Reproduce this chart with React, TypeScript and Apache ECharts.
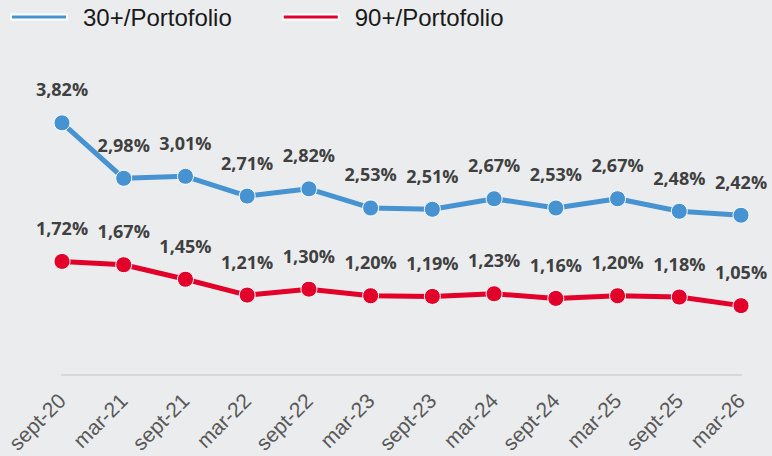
import React, { useEffect, useRef } from "react";
import * as echarts from "echarts";

const categories = ["sept-20", "mar-21", "sept-21", "mar-22", "sept-22", "mar-23", "sept-23", "mar-24", "sept-24", "mar-25", "sept-25", "mar-26"];
const series30 = [3.82, 2.98, 3.01, 2.71, 2.82, 2.53, 2.51, 2.67, 2.53, 2.67, 2.48, 2.42];
const series90 = [1.72, 1.67, 1.45, 1.21, 1.30, 1.20, 1.19, 1.23, 1.16, 1.20, 1.18, 1.05];
const seriesNames = ["30+/Portofolio", "90+/Portofolio"];

const BLUE = "#4793d1";
const RED = "#e2002b";

const fmt = (v: number) => v.toFixed(2).replace(".", ",") + "%";

export default function App() {
  const ref = useRef<HTMLDivElement>(null);
  useEffect(() => {
    if (!ref.current) return;
    const chart = echarts.init(ref.current, null, { renderer: "svg" });
    const mkSeries = (name: string, data: number[], color: string) => ({
      name,
      type: "line",
      data,
      symbol: "circle",
      symbolSize: 16,
      lineStyle: { color, width: 5 },
      itemStyle: { color, borderColor: "#ffffff", borderWidth: 1 },
      label: {
        show: true,
        position: "top",
        distance: 16,
        formatter: (p: any) => fmt(p.value),
        fontFamily: "Open Sans",
        fontWeight: "bold",
        fontSize: 18,
        color: "#404040",
      },
    });
    chart.setOption({
      animation: false,
      backgroundColor: "#ebecee",
      legend: {
        left: 5,
        top: 0,
        itemWidth: 56,
        itemHeight: 5,
        itemGap: 50,
        icon: "rect",
        data: seriesNames,
        textStyle: {
          fontFamily: "Liberation Sans",
          fontSize: 24,
          color: "#1a1a1a",
          padding: [0, 0, 0, 11],
        },
      },
      grid: { left: 62, right: 31, top: 45, bottom: 76, containLabel: false },
      xAxis: {
        type: "category",
        data: categories,
        boundaryGap: false,
        axisLine: { show: true, lineStyle: { color: "#d6d7d9", width: 2 } },
        axisTick: { show: false },
        axisLabel: {
          rotate: 45,
          margin: 22,
          interval: 0,
          fontFamily: "Liberation Sans",
          fontSize: 21,
          color: "#595959",
        },
      },
      yAxis: {
        type: "value",
        min: 0,
        max: 5,
        show: false,
        splitLine: { show: false },
      },
      series: [mkSeries(seriesNames[0], series30, BLUE), mkSeries(seriesNames[1], series90, RED)],
    });
    return () => chart.dispose();
  }, []);
  return <div ref={ref} style={{ position: "fixed", left: 0, top: 0, width: 772, height: 456 }} />;
}
